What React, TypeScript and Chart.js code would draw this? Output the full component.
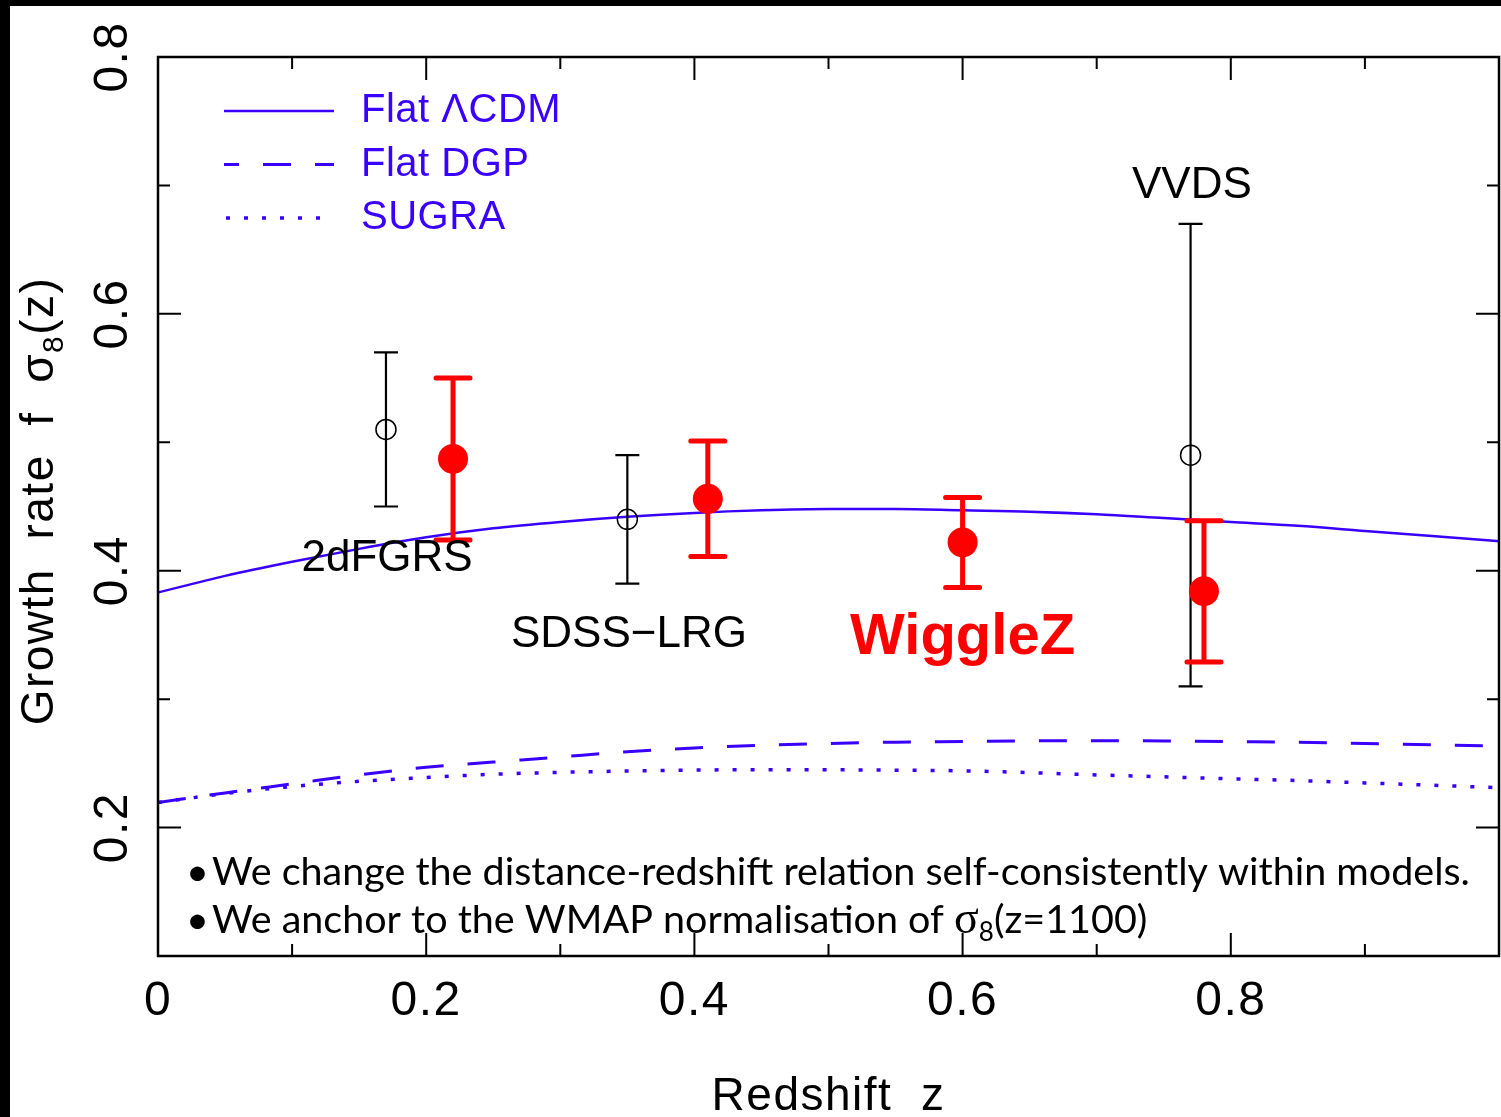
import React, { useEffect, useRef } from 'react';
import { Chart, registerables } from 'chart.js';

Chart.register(...registerables);

// ---------- data ----------
const modelZ = [0, 0.05, 0.1, 0.15, 0.2, 0.25, 0.3, 0.35, 0.4, 0.45, 0.5, 0.55, 0.6, 0.65, 0.7, 0.75, 0.8, 0.85, 0.9, 0.95, 1.0];
const flatLCDM = [0.383, 0.396, 0.407, 0.417, 0.426, 0.433, 0.438, 0.442, 0.445, 0.447, 0.448, 0.448, 0.447, 0.446, 0.444, 0.441, 0.438, 0.435, 0.431, 0.427, 0.423];
const flatDGP = [0.2195, 0.227, 0.234, 0.241, 0.247, 0.251, 0.255, 0.259, 0.262, 0.264, 0.2655, 0.2665, 0.267, 0.2675, 0.2677, 0.2675, 0.267, 0.2665, 0.2655, 0.2645, 0.2635];
const sugra = [0.2195, 0.2265, 0.232, 0.236, 0.239, 0.2415, 0.243, 0.244, 0.2448, 0.245, 0.245, 0.2447, 0.2442, 0.2428, 0.241, 0.2395, 0.238, 0.2366, 0.2348, 0.233, 0.231];

const surveyNames = ['2dFGRS', 'SDSS\u2212LRG', 'VVDS'];
const surveyZ = [0.17, 0.35, 0.77];
const surveyFs8 = [0.51, 0.44, 0.49];
const surveyErr = [0.06, 0.05, 0.18];

const wigglezName = 'WiggleZ';
const wigglezZ = [0.22, 0.41, 0.6, 0.78];
const wigglezFs8 = [0.487, 0.456, 0.422, 0.384];
const wigglezErr = [0.063, 0.045, 0.035, 0.055];

const xTickLabels = [0, 0.2, 0.4, 0.6, 0.8];
const yTickLabels = [0.2, 0.4, 0.6, 0.8];
const modelNames = ['Flat \u039BCDM', 'Flat DGP', 'SUGRA'];

const xTitle = 'Redshift  z';
const noteLine1 = 'We change the distance-redshift relation self-consistently within models.';
const noteLine2a = 'We anchor to the WMAP normalisation of ';
const noteLine2b = '(z=1100)';

// ---------- styles / placement ----------
const BLUE = '#3a00ff';
const RED = '#ff0000';
const SANS = "'Liberation Sans', Arial, sans-serif";
const NOTE = "Lato, 'Open Sans', sans-serif";

// label placement in data coordinates [x, baseline y]
const surveyLabelPos = [
  [0.1708, 0.3998],
  [0.3512, 0.3406],
  [0.771, 0.69],
];
const wigglezLabelPos = [0.6, 0.335];

type Part = { text: string; font: string; dy?: number };

function partsWidth(ctx: CanvasRenderingContext2D, parts: Part[]) {
  let w = 0;
  for (const p of parts) {
    ctx.font = p.font;
    w += ctx.measureText(p.text).width;
  }
  return w;
}
function drawParts(ctx: CanvasRenderingContext2D, parts: Part[], x: number, y: number) {
  let cx = x;
  for (const p of parts) {
    ctx.font = p.font;
    ctx.fillText(p.text, cx, y + (p.dy || 0));
    cx += ctx.measureText(p.text).width;
  }
}

const errorSpecs: Record<number, { z: number[]; v: number[]; e: number[]; color: string; width: number; cap: number }> = {
  0: { z: wigglezZ, v: wigglezFs8, e: wigglezErr, color: RED, width: 5, cap: 17 },
  1: { z: surveyZ, v: surveyFs8, e: surveyErr, color: '#000', width: 2.2, cap: 12 },
};

const decorPlugin = {
  id: 'decor',
  beforeDraw(chart: any) {
    const ctx = chart.ctx as CanvasRenderingContext2D;
    ctx.save();
    ctx.fillStyle = '#000';
    ctx.fillRect(0, 0, chart.width, chart.height);
    ctx.fillStyle = '#fff';
    ctx.fillRect(10, 6, chart.width - 10, chart.height - 6);
    ctx.restore();
  },
  beforeDatasetDraw(chart: any, args: any) {
    const spec = errorSpecs[args.index];
    if (!spec) return;
    const ctx = chart.ctx as CanvasRenderingContext2D;
    const xs = chart.scales.x;
    const ys = chart.scales.y;
    ctx.save();
    ctx.strokeStyle = spec.color;
    ctx.lineWidth = spec.width;
    ctx.lineCap = spec.width > 3 ? 'round' : 'butt';
    spec.z.forEach((z, i) => {
      const px = xs.getPixelForValue(z);
      const top = ys.getPixelForValue(spec.v[i] + spec.e[i]);
      const bot = ys.getPixelForValue(spec.v[i] - spec.e[i]);
      ctx.beginPath();
      ctx.moveTo(px, top);
      ctx.lineTo(px, bot);
      ctx.moveTo(px - spec.cap, top);
      ctx.lineTo(px + spec.cap, top);
      ctx.moveTo(px - spec.cap, bot);
      ctx.lineTo(px + spec.cap, bot);
      ctx.stroke();
    });
    ctx.restore();
  },
  afterDraw(chart: any) {
    const ctx = chart.ctx as CanvasRenderingContext2D;
    const xs = chart.scales.x;
    const ys = chart.scales.y;
    const a = chart.chartArea;
    ctx.save();

    // frame
    ctx.strokeStyle = '#000';
    ctx.lineWidth = 2.5;
    ctx.strokeRect(a.left, a.top, a.right - a.left, a.bottom - a.top);

    // ticks
    ctx.lineWidth = 2;
    ctx.beginPath();
    for (let k = 1; k <= 9; k++) {
      const v = k / 10;
      const len = k % 2 === 0 ? 23 : 12;
      const px = xs.getPixelForValue(v);
      ctx.moveTo(px, a.bottom);
      ctx.lineTo(px, a.bottom - len);
      ctx.moveTo(px, a.top);
      ctx.lineTo(px, a.top + len);
    }
    for (let k = 2; k <= 7; k++) {
      const v = k / 10;
      const len = k % 2 === 0 ? 23 : 12;
      const py = ys.getPixelForValue(v);
      ctx.moveTo(a.left, py);
      ctx.lineTo(a.left + len, py);
      ctx.moveTo(a.right, py);
      ctx.lineTo(a.right - len, py);
    }
    ctx.stroke();

    // tick labels
    ctx.fillStyle = '#000';
    (ctx as any).letterSpacing = '1.5px';
    ctx.font = `48px ${SANS}`;
    ctx.textAlign = 'center';
    ctx.textBaseline = 'alphabetic';
    xTickLabels.forEach((v) => {
      ctx.fillText(v === 0 ? '0' : v.toFixed(1), xs.getPixelForValue(v), a.bottom + 59);
    });
    yTickLabels.forEach((v) => {
      ctx.save();
      ctx.translate(a.left - 31, ys.getPixelForValue(v));
      ctx.rotate(-Math.PI / 2);
      ctx.fillText(v.toFixed(1), 0, 0);
      ctx.restore();
    });

    // axis titles
    ctx.font = `46px ${SANS}`;
    ctx.fillText(xTitle, (a.left + a.right) / 2, 1110);
    const yParts: Part[] = [
      { text: 'Growth  rate  f  \u03C3', font: `46px ${SANS}` },
      { text: '8', font: `30px ${SANS}`, dy: 10 },
      { text: '(z)', font: `46px ${SANS}` },
    ];
    ctx.save();
    ctx.translate(53, 501);
    ctx.rotate(-Math.PI / 2);
    ctx.textAlign = 'left';
    const yw = partsWidth(ctx, yParts);
    drawParts(ctx, yParts, -yw / 2, 0);
    ctx.restore();
    (ctx as any).letterSpacing = '0px';

    // legend (inside the plot, top-left)
    const legendSets = [2, 3, 4];
    legendSets.forEach((di, i) => {
      const ds = chart.data.datasets[di];
      const ly = a.top + 54 + i * 53.5;
      ctx.save();
      ctx.strokeStyle = BLUE;
      ctx.lineWidth = ds.borderWidth;
      ctx.setLineDash(ds.borderDash || []);
      ctx.lineDashOffset = i === 1 ? 13 : 0;
      ctx.beginPath();
      ctx.moveTo(a.left + (i === 2 ? 68 : 66), ly);
      ctx.lineTo(a.left + 176, ly);
      ctx.stroke();
      ctx.restore();
      ctx.fillStyle = BLUE;
      ctx.font = `40px ${SANS}`;
      ctx.textAlign = 'left';
      (ctx as any).letterSpacing = '0.5px';
      ctx.fillText(ds.label, a.left + 203, ly + 11);
      (ctx as any).letterSpacing = '0px';
    });

    // survey labels
    ctx.fillStyle = '#000';
    ctx.font = `44px ${SANS}`;
    ctx.textAlign = 'center';
    surveyNames.forEach((n, i) => {
      const [lx, ly] = surveyLabelPos[i];
      ctx.fillText(n, xs.getPixelForValue(lx), ys.getPixelForValue(ly));
    });
    ctx.fillStyle = RED;
    ctx.font = `bold 58px ${SANS}`;
    ctx.fillText(wigglezName, xs.getPixelForValue(wigglezLabelPos[0]), ys.getPixelForValue(wigglezLabelPos[1]));

    // notes
    ctx.fillStyle = '#000';
    ctx.textAlign = 'left';
    const noteFont = `39.5px ${NOTE}`;
    ctx.font = noteFont;
    ctx.fillText('\u2022', a.left + 28, 885);
    ctx.fillText(noteLine1, a.left + 54, 885);
    ctx.fillText('\u2022', a.left + 28, 933);
    drawParts(
      ctx,
      [
        { text: noteLine2a, font: noteFont },
        { text: '\u03C3', font: `46px 'Liberation Serif', serif` },
        { text: '8', font: `26px ${NOTE}`, dy: 8 },
        { text: noteLine2b, font: noteFont },
      ],
      a.left + 54,
      933
    );

    ctx.restore();
  },
};

export default function App() {
  const ref = useRef<HTMLCanvasElement>(null);
  useEffect(() => {
    const canvas = ref.current;
    if (!canvas) return;
    const chart = new Chart(canvas, {
      type: 'scatter',
      data: {
        datasets: [
          {
            label: wigglezName,
            data: wigglezZ.map((z, i) => ({ x: z, y: wigglezFs8[i] })),
            pointRadius: 15,
            pointStyle: 'circle',
            backgroundColor: RED,
            borderColor: RED,
            borderWidth: 0,
          },
          {
            label: 'Other surveys',
            data: surveyZ.map((z, i) => ({ x: z, y: surveyFs8[i] })),
            pointRadius: 10,
            pointStyle: 'circle',
            backgroundColor: 'rgba(0,0,0,0)',
            borderColor: '#000',
            borderWidth: 1.5,
          },
          {
            type: 'line',
            label: modelNames[0],
            data: modelZ.map((z, i) => ({ x: z, y: flatLCDM[i] })),
            borderColor: BLUE,
            borderWidth: 2.5,
            pointRadius: 0,
            cubicInterpolationMode: 'monotone',
            fill: false,
          },
          {
            type: 'line',
            label: modelNames[1],
            data: modelZ.map((z, i) => ({ x: z, y: flatDGP[i] })),
            borderColor: BLUE,
            borderWidth: 3,
            borderDash: [28, 24],
            pointRadius: 0,
            cubicInterpolationMode: 'monotone',
            fill: false,
          },
          {
            type: 'line',
            label: modelNames[2],
            data: modelZ.map((z, i) => ({ x: z, y: sugra[i] })),
            borderColor: BLUE,
            borderWidth: 3.5,
            borderDash: [4, 14],
            pointRadius: 0,
            cubicInterpolationMode: 'monotone',
            fill: false,
          },
        ],
      } as any,
      options: {
        animation: false,
        responsive: false,
        devicePixelRatio: 1,
        layout: { autoPadding: false, padding: { left: 158, top: 57, right: 2, bottom: 161 } },
        plugins: { legend: { display: false }, tooltip: { enabled: false } },
        events: [],
        scales: {
          x: { type: 'linear', min: 0, max: 1, display: false },
          y: { type: 'linear', min: 0.1, max: 0.8, display: false },
        },
      } as any,
      plugins: [decorPlugin],
    });
    return () => chart.destroy();
  }, []);
  return (
    <div style={{ position: 'fixed', left: 0, top: 0, width: 1501, height: 1117, background: '#000' }}>
      <canvas ref={ref} width={1501} height={1117} style={{ display: 'block', width: 1501, height: 1117 }} />
    </div>
  );
}
